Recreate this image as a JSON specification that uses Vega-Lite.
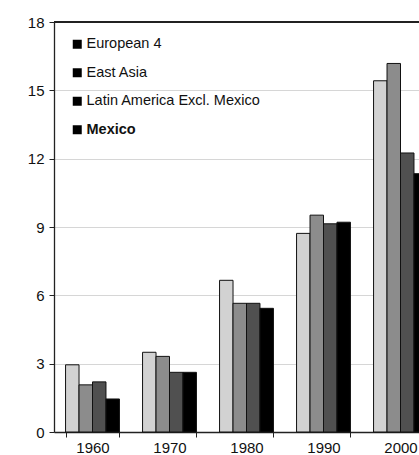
{
  "$schema": "https://vega.github.io/schema/vega-lite/v6.json",
  "autosize": {"type": "none"},
  "padding": {"left": 54, "top": 22, "right": 0, "bottom": 23},
  "width": 365,
  "height": 410,
  "background": "white",
  "config": {"view": {"stroke": null}, "font": "Liberation Sans"},
  "data": {
    "values": [
      {"year": "1960", "region": "European 4", "value": 2.95},
      {"year": "1960", "region": "East Asia", "value": 2.07},
      {"year": "1960", "region": "Latin America Excl. Mexico", "value": 2.2},
      {"year": "1960", "region": "Mexico", "value": 1.45},
      {"year": "1970", "region": "European 4", "value": 3.5},
      {"year": "1970", "region": "East Asia", "value": 3.32},
      {"year": "1970", "region": "Latin America Excl. Mexico", "value": 2.62},
      {"year": "1970", "region": "Mexico", "value": 2.62},
      {"year": "1980", "region": "European 4", "value": 6.66},
      {"year": "1980", "region": "East Asia", "value": 5.65},
      {"year": "1980", "region": "Latin America Excl. Mexico", "value": 5.65},
      {"year": "1980", "region": "Mexico", "value": 5.43},
      {"year": "1990", "region": "European 4", "value": 8.72},
      {"year": "1990", "region": "East Asia", "value": 9.52},
      {"year": "1990", "region": "Latin America Excl. Mexico", "value": 9.14},
      {"year": "1990", "region": "Mexico", "value": 9.21},
      {"year": "2000", "region": "European 4", "value": 15.42},
      {"year": "2000", "region": "East Asia", "value": 16.18},
      {"year": "2000", "region": "Latin America Excl. Mexico", "value": 12.25},
      {"year": "2000", "region": "Mexico", "value": 11.34}
    ]
  },
  "layer": [
    {
      "mark": {"type": "bar", "stroke": "#111", "strokeWidth": 1},
      "encoding": {
        "x": {
          "field": "year", "type": "nominal",
          "scale": {"range": [0, 385], "paddingInner": 0.3, "paddingOuter": 0.15},
          "axis": {
            "title": null, "labelAngle": 0, "tickBand": "extent", "tickSize": 5,
            "labelPadding": 3, "labelFontSize": 15, "labelColor": "#111",
            "domainColor": "#222", "tickColor": "#222", "domainWidth": 1.3, "grid": false
          }
        },
        "xOffset": {
          "field": "region", "type": "nominal",
          "sort": ["European 4", "East Asia", "Latin America Excl. Mexico", "Mexico"],
          "scale": {"paddingInner": 0, "paddingOuter": 0}
        },
        "y": {
          "field": "value", "type": "quantitative",
          "scale": {"domain": [0, 18], "nice": false},
          "axis": {
            "title": null, "values": [0, 3, 6, 9, 12, 15, 18], "tickSize": 5,
            "labelPadding": 5, "labelFontSize": 15, "labelColor": "#111",
            "domainColor": "#222", "tickColor": "#222", "domainWidth": 1.3,
            "grid": true, "gridColor": "#d6d6d6", "gridWidth": 1
          }
        },
        "color": {
          "field": "region", "type": "nominal",
          "sort": ["European 4", "East Asia", "Latin America Excl. Mexico", "Mexico"],
          "scale": {
            "domain": ["European 4", "East Asia", "Latin America Excl. Mexico", "Mexico"],
            "range": ["#d2d2d2", "#8c8c8c", "#505050", "#000000"]
          },
          "legend": {
            "title": null, "orient": "none", "legendX": 16, "legendY": 15,
            "padding": 0, "symbolType": "square", "symbolSize": 4,
            "symbolStrokeWidth": 7, "symbolStrokeColor": "#000",
            "labelFontSize": 14.5, "labelColor": "#111", "labelLimit": 400,
            "labelOffset": 2, "rowPadding": -2.5,
            "labelFontWeight": {"expr": "datum.label === 'Mexico' ? 'bold' : 'normal'"}
          }
        }
      }
    },
    {
      "mark": {"type": "rule", "color": "#222", "strokeWidth": 1.3},
      "encoding": {"y": {"datum": 18}}
    }
  ]
}
